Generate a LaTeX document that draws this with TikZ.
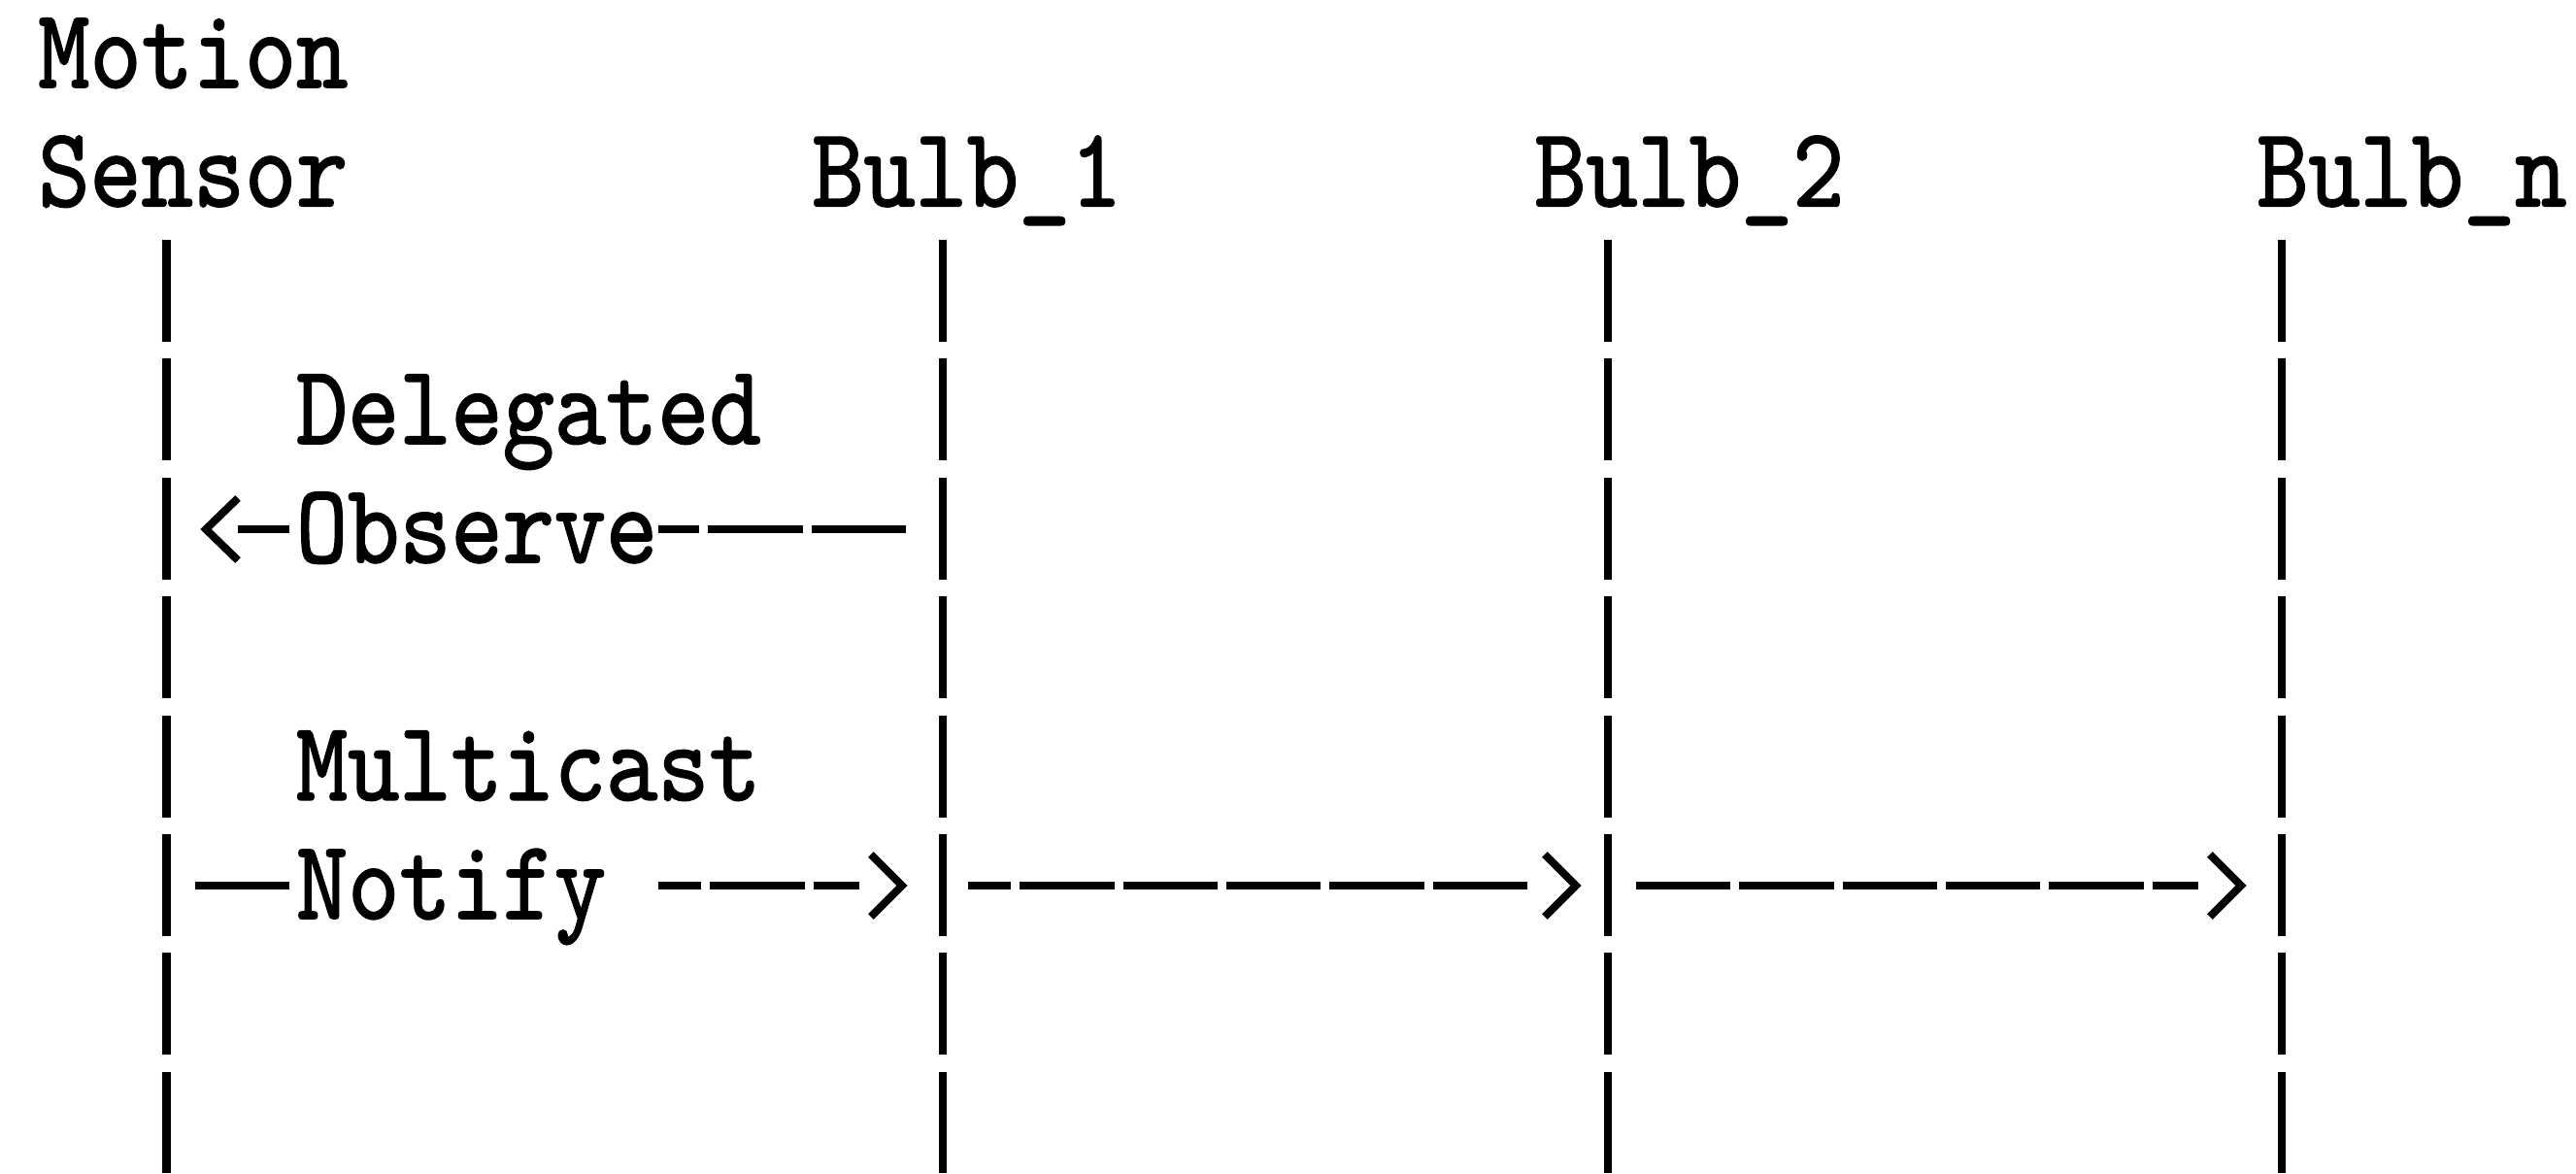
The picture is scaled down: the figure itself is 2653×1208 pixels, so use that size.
\documentclass[tikz,border=0pt]{standalone}
\usepackage{fontspec}
\usepackage{graphicx}
\usetikzlibrary{arrows.meta}
\newfontfamily\asciifont{lmmono10-regular.otf}[FakeBold=1.5]
\newcommand{\tallt}[1]{\scalebox{1}[1.15]{#1}}
\newdimen\chevgap
\pgfdeclarearrow{
  name = Chev,
  parameters = {\the\pgfarrowlength,\the\pgfarrowwidth,\the\pgfarrowinset,\the\pgfarrowlinewidth},
  setup code = {
    \pgfarrowssettipend{0pt}
    \pgfarrowssetbackend{-\pgfarrowlength}
    \chevgap=\pgfarrowlength
    \advance\chevgap by \pgfarrowinset
    \pgfarrowssetlineend{-\chevgap}
    \pgfarrowssavethe\pgfarrowlength
    \pgfarrowssavethe\pgfarrowwidth
    \pgfarrowssavethe\pgfarrowlinewidth
  },
  drawing code = {
    \pgfsetdash{}{0pt}
    \pgfsetlinewidth{\pgfarrowlinewidth}
    \pgfpathmoveto{\pgfqpoint{-\pgfarrowlength}{.5\pgfarrowwidth}}
    \pgfpathlineto{\pgfqpoint{0pt}{0pt}}
    \pgfpathlineto{\pgfqpoint{-\pgfarrowlength}{-.5\pgfarrowwidth}}
    \pgfusepathqstroke
  },
  defaults = {length=0.32cm, width=0.64cm, inset=0cm, line width=0.08cm}
}
\tikzset{
  txt/.style={font=\asciifont\fontsize{28.8pt}{34.8pt}\selectfont, inner sep=0pt, anchor=base west},
  life/.style={line width=0.08cm, dash pattern=on 1.05cm off 0.173cm},
  msg/.style={line width=0.08cm, dash pattern=on 0.973cm off 0.09cm},
  tipr/.style={-{Chev[length=0.32cm,width=0.64cm,inset=0.12cm,line width=0.08cm]}},
  tipl/.style={-{Chev[length=0.33cm,width=0.64cm,inset=0cm,line width=0.08cm]}}
}
\begin{document}
\begin{tikzpicture}[x=0.01cm,y=-0.01cm]
        \useasboundingbox (0,0) rectangle (2653,1208);
        \node[txt](motion) at (38.65,90) {\tallt{Motion}};
        \node[txt](sensor) at (38.65,212.3) {\tallt{Sensor}};
        \node[txt](bulb1) at (835.75,212.3) {\tallt{Bulb\_1}};
        \node[txt](bulb2) at (1579.7,212.3) {\tallt{Bulb\_2}};
        \node[txt](bulbn) at (2323.7,212.3) {\tallt{Bulb\_n}};
        \node[txt](delegated) at (304.35,456.9) {\tallt{Delegated}};
        \node[txt](observe) at (304.35,579.2) {\tallt{Observe}};
        \node[txt](multicast) at (304.35,823.8) {\tallt{Multicast}};
        \node[txt](notify) at (304.35,946.1) {\tallt{Notify}};
        \foreach \n/\x in {ms/171.5, b1/971, b2/1656, bn/2350}{
          \coordinate(\n top) at (\x,247);
          \coordinate(\n end) at (\x,1208);
          \draw[life](\n top)--(\n end);
        }
        \coordinate(ms4) at (171.5,545);
        \coordinate(b14) at (971,545);
        \coordinate(ms7) at (171.5,912);
        \coordinate(b17) at (971,912);
        \coordinate(b27) at (1656,912);
        \coordinate(bn7) at (2350,912);
        \draw[msg, shorten <=0.38cm](b14)--(observe.east |- b14);
        \draw[msg, tipl, shorten <=0.06cm, shorten >=0.405cm](observe.west |- ms4)--(ms4);
        \draw[msg, shorten <=0.295cm](ms7)--(notify.west |- ms7);
        \draw[msg, tipr, shorten <=0.5314cm, shorten >=0.42cm, dash phase=0.5314cm](notify.east |- b17)--(b17);
        \draw[msg, tipr, shorten <=0.26cm, shorten >=0.33cm, dash phase=0.5314cm](b17)--(b27);
        \draw[msg, tipr, shorten <=0.29cm, shorten >=0.42cm](b27)--(bn7);
\end{tikzpicture}
\end{document}
